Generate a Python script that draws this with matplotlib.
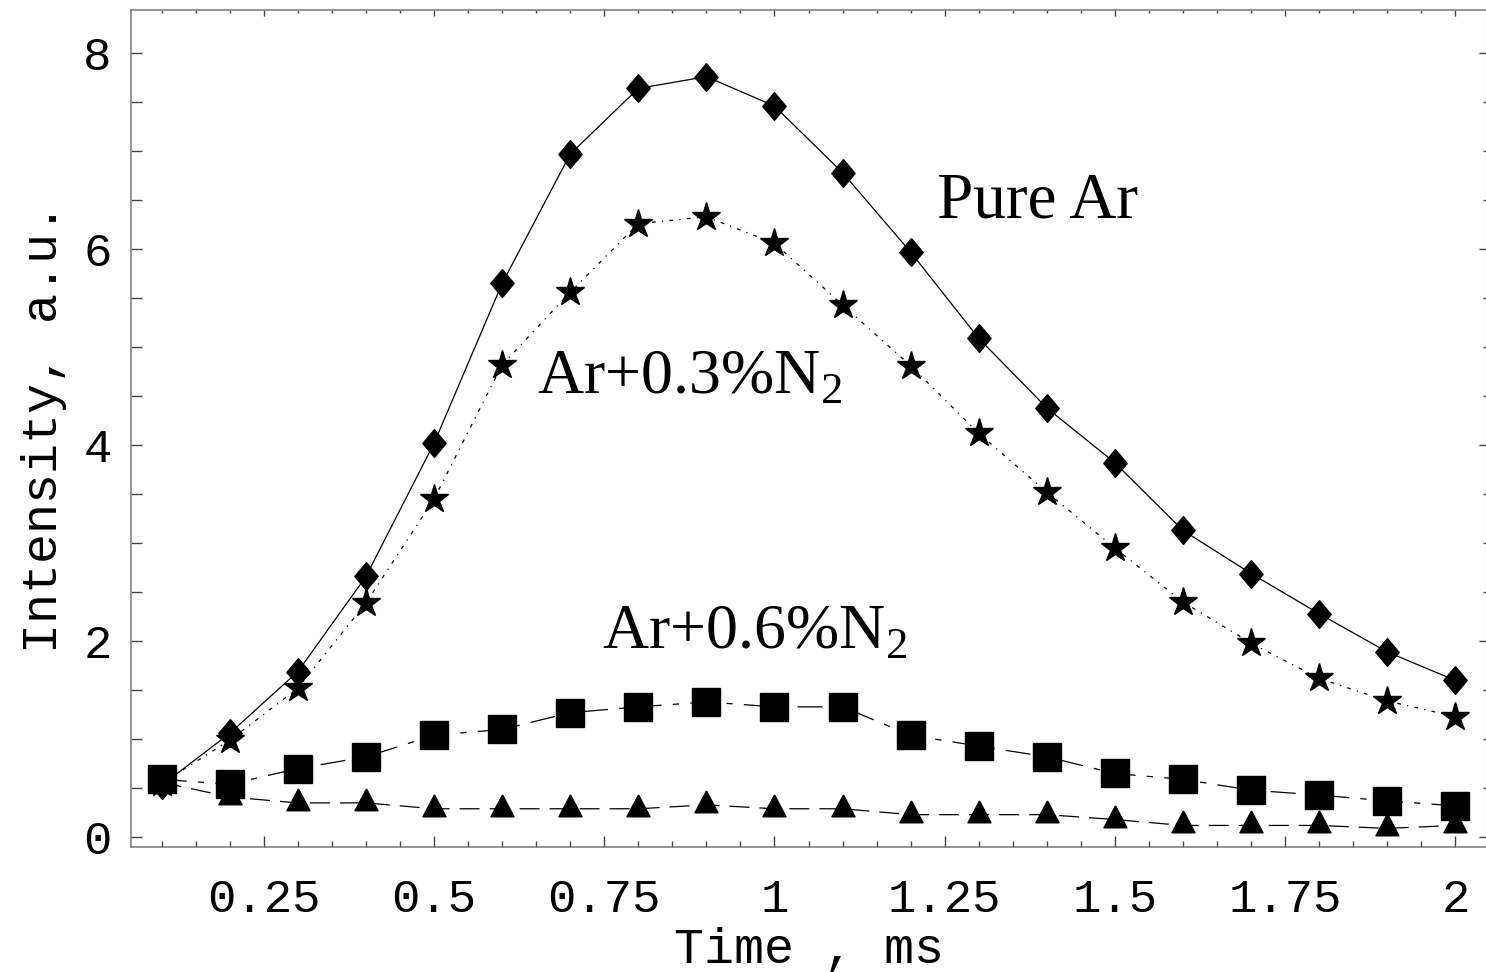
import matplotlib
matplotlib.use("Agg")
import matplotlib.pyplot as plt
from matplotlib import ticker

# time points (ms)
time_ms = [0.1, 0.2, 0.3, 0.4, 0.5, 0.6, 0.7, 0.8, 0.9, 1.0,
           1.1, 1.2, 1.3, 1.4, 1.5, 1.6, 1.7, 1.8, 1.9, 2.0]

# intensities
pure_ar = [0.53, 1.06, 1.69, 2.66, 4.02, 5.65, 6.97, 7.64, 7.76, 7.46,
           6.78, 5.97, 5.09, 4.38, 3.82, 3.13, 2.69, 2.28, 1.89, 1.60]
ar_n2_03 = [0.55, 0.99, 1.52, 2.39, 3.45, 4.82, 5.56, 6.26, 6.33, 6.06,
            5.43, 4.81, 4.12, 3.52, 2.95, 2.40, 1.98, 1.62, 1.39, 1.23]
ar_n2_06 = [0.59, 0.54, 0.70, 0.82, 1.04, 1.10, 1.27, 1.33, 1.38, 1.33,
            1.33, 1.04, 0.93, 0.82, 0.65, 0.59, 0.48, 0.43, 0.37, 0.32]
ar_n2_tri = [0.56, 0.41, 0.35, 0.35, 0.29, 0.29, 0.29, 0.29, 0.33, 0.29,
             0.29, 0.23, 0.23, 0.23, 0.18, 0.12, 0.12, 0.12, 0.09, 0.12]

x_ticks = [0.25, 0.5, 0.75, 1.0, 1.25, 1.5, 1.75, 2.0]
y_ticks = [0, 2, 4, 6, 8]

plt.rcParams['mathtext.fontset'] = 'custom'
plt.rcParams['mathtext.rm'] = 'Liberation Serif'
mono = 'Liberation Mono'
serif = 'Liberation Serif'

diamond = [(0, 1), (0.84, 0), (0, -1), (-0.84, 0), (0, 1)]
triangle = [(0, 1), (0.79, -0.5), (-0.79, -0.5), (0, 1)]

fig = plt.figure(figsize=(14.86, 9.72), dpi=100)
ax = fig.add_axes([0.0882, 0.1286, 0.9118, 0.8616])

ax.plot(time_ms, pure_ar, color='black', lw=0.9, marker=diamond, ms=20)
ax.plot(time_ms, ar_n2_03, color='black', lw=0.9, linestyle=(0, (1, 5, 3, 5)),
        marker='*', ms=21)
ax.plot(time_ms, ar_n2_06, color='black', lw=0.9, linestyle=(0, (20, 9, 5, 9)),
        marker='s', ms=20)
ax.plot(time_ms, ar_n2_tri, color='black', lw=0.9, linestyle=(0, (16, 8)),
        marker=triangle, ms=21)

ax.text(1.238, 6.32, 'Pure Ar', family=serif, fontsize=47, va='baseline')
ax.text(0.651, 4.53, r'Ar+0.3%N$_2$', family=serif, fontsize=46, va='baseline')
ax.text(0.746, 1.93, r'Ar+0.6%N$_2$', family=serif, fontsize=46, va='baseline')

ax.set_xlim(0.055, 2.045)
ax.set_ylim(-0.10, 8.445)

ax.xaxis.set_major_locator(ticker.FixedLocator(x_ticks))
ax.xaxis.set_minor_locator(ticker.MultipleLocator(0.05))
ax.xaxis.set_major_formatter(ticker.FormatStrFormatter('%g'))
ax.yaxis.set_major_locator(ticker.FixedLocator(y_ticks))
ax.yaxis.set_minor_locator(ticker.MultipleLocator(0.5))

ax.tick_params(axis='x', which='major', direction='in', length=8, width=1,
               color='#444444', pad=22, labelsize=34)
ax.tick_params(axis='x', which='minor', direction='in', length=4, width=1,
               color='#444444')
ax.tick_params(axis='y', which='both', direction='in', length=8, width=1,
               color='#444444', pad=14, labelsize=34)
for lab in ax.get_xticklabels() + ax.get_yticklabels():
    lab.set_family(mono)

for s in ['top', 'right']:
    ax.spines[s].set_visible(False)
for s in ['left', 'bottom']:
    ax.spines[s].set_color('#777777')
    ax.spines[s].set_linewidth(1.1)

# shorter ticks on top and right
top = ax.secondary_xaxis('top')
top.xaxis.set_major_locator(ticker.FixedLocator(x_ticks))
top.xaxis.set_minor_locator(ticker.MultipleLocator(0.05))
top.tick_params(which='major', direction='in', length=4.5, width=1, color='#444444',
                labeltop=False)
top.tick_params(which='minor', direction='in', length=2, width=1, color='#444444')
top.spines['top'].set_color('#777777')
top.spines['top'].set_linewidth(1.1)

right = ax.secondary_yaxis('right')
right.yaxis.set_major_locator(ticker.FixedLocator(y_ticks))
right.yaxis.set_minor_locator(ticker.MultipleLocator(0.5))
right.tick_params(which='major', direction='in', length=5, width=1, color='#444444',
                  labelright=False)
right.tick_params(which='minor', direction='in', length=2, width=1, color='#444444')
right.spines['right'].set_color('#777777')

ax.set_xlabel('Time , ms', family=mono, fontsize=36, labelpad=4)
ax.set_ylabel('Intensity, a.u.', family=mono, fontsize=36, labelpad=12)

fig.savefig('out.png', dpi=100)
